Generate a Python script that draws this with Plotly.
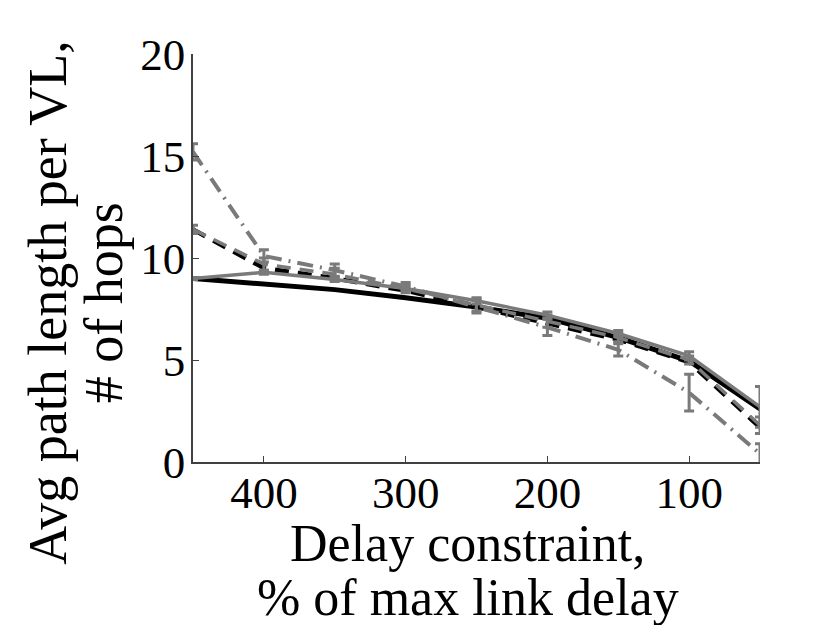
import plotly.graph_objects as go

delay = [450, 400, 350, 300, 250, 200, 150, 100, 50]

black_solid = [9.0, 8.75, 8.45, 8.05, 7.6, 7.05, 6.1, 4.95, 2.6]
gray_solid = [9.0, 9.3, 8.95, 8.5, 7.9, 7.2, 6.3, 5.2, 2.7]
gray_solid_err = [0.05, 0.1, 0.1, 0.1, 0.15, 0.15, 0.15, 0.2, 1.0]
black_dashed = [11.4, 9.5, 9.0, 8.4, 7.6, 6.8, 6.0, 4.9, 1.7]
gray_dashed = [11.4, 9.7, 9.2, 8.5, 7.7, 6.9, 6.1, 5.0, 1.8]
gray_dashed_err = [0.2, 0.3, 0.3, 0.2, 0.3, 0.3, 0.2, 0.2, 0.4]
dashdot = [15.2, 10.1, 9.4, 8.6, 7.6, 6.6, 5.5, 3.4, 0.4]
dashdot_err = [0.4, 0.3, 0.3, 0.2, 0.3, 0.4, 0.3, 0.9, 0.5]

x_title_lines = ["Delay constraint,", "% of max link delay"]
y_title_lines = ["Avg path length per VL,", "# of hops"]

GRAY = "#7a7a7a"
fig = go.Figure()

fig.add_trace(go.Scatter(x=delay, y=black_solid, mode="lines",
                         line=dict(color="black", width=5)))
fig.add_trace(go.Scatter(x=delay, y=black_dashed, mode="lines",
                         line=dict(color="black", width=4.5, dash="14px,9px")))
fig.add_trace(go.Scatter(x=delay, y=gray_dashed, mode="lines",
                         line=dict(color=GRAY, width=3.5, dash="14px,9px"),
                         error_y=dict(type="data", array=gray_dashed_err, color=GRAY,
                                      thickness=3, width=5)))
fig.add_trace(go.Scatter(x=delay, y=dashdot, mode="lines",
                         line=dict(color=GRAY, width=4, dash="16px,7px,2px,7px"),
                         error_y=dict(type="data", array=dashdot_err, color=GRAY,
                                      thickness=3, width=5)))
fig.add_trace(go.Scatter(x=delay, y=gray_solid, mode="lines",
                         line=dict(color=GRAY, width=3.5),
                         error_y=dict(type="data", array=gray_solid_err, color=GRAY,
                                      thickness=3, width=5)))

FONT = "Liberation Serif, Times New Roman, serif"
fig.update_layout(
    width=830, height=625,
    margin=dict(l=185, r=78, t=46, b=171),
    plot_bgcolor="white", paper_bgcolor="white",
    showlegend=False,
    font=dict(family=FONT, size=45, color="black"),
    xaxis=dict(range=[450, 50], tickvals=[400, 300, 200, 100],
               ticks="inside", ticklen=6, tickcolor="#404040",
               showline=True, linecolor="#404040", linewidth=1.5,
               showgrid=False, zeroline=False, ticklabelstandoff=-10,
               tickfont=dict(family=FONT, size=45)),
    yaxis=dict(range=[0, 20], tickvals=[0, 5, 10, 15, 20],
               ticks="inside", ticklen=6, tickcolor="#404040",
               showline=True, linecolor="#404040", linewidth=1.5,
               showgrid=False, zeroline=False, ticklabelstandoff=-3,
               tickfont=dict(family=FONT, size=45)),
)

for txt, yy in zip(x_title_lines, [-0.2, -0.333]):
    fig.add_annotation(text=txt, xref="paper", yref="paper", x=0.485, y=yy,
                       xanchor="center", yanchor="middle", showarrow=False,
                       font=dict(family=FONT, size=52))
for txt, xx in zip(y_title_lines, [-0.256, -0.158]):
    fig.add_annotation(text=txt, xref="paper", yref="paper", x=xx, y=0.39,
                       xanchor="center", yanchor="middle", textangle=-90,
                       showarrow=False, font=dict(family=FONT, size=54))

fig.write_html("out.html")
